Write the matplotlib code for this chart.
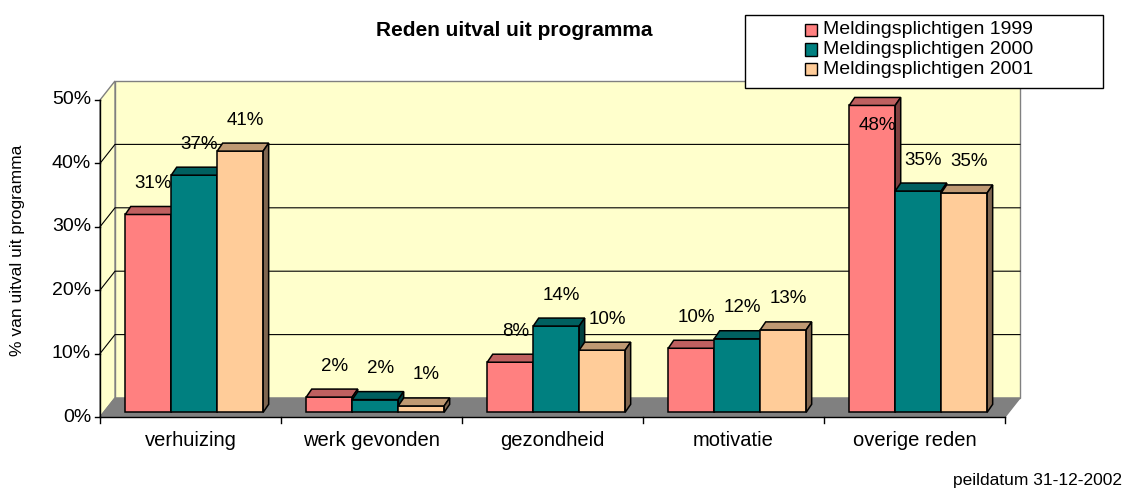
import matplotlib
matplotlib.use("Agg")
import matplotlib.pyplot as plt
from matplotlib.patches import Polygon, Rectangle

# ---- data -----------------------------------------------------------------
categories = ["verhuizing", "werk gevonden", "gezondheid", "motivatie", "overige reden"]
series_names = ["Meldingsplichtigen 1999", "Meldingsplichtigen 2000", "Meldingsplichtigen 2001"]
v1999 = [31.2, 2.4, 7.9, 10.1, 48.4]
v2000 = [37.4, 2.0, 13.6, 11.6, 34.9]
v2001 = [41.2, 1.0, 9.8, 13.0, 34.6]
y_ticks = [0, 10, 20, 30, 40, 50]
y_tick_labels = ["0%", "10%", "20%", "30%", "40%", "50%"]

series = [v1999, v2000, v2001]
front_colors = ["#FF8080", "#008080", "#FFCC99"]
top_colors = ["#BF6060", "#006060", "#BF9973"]
side_colors = ["#804040", "#004040", "#806650"]

plt.rcParams["font.family"] = ["Liberation Sans", "DejaVu Sans"]

W, H = 1126, 488
fig = plt.figure(figsize=(W / 100, H / 100), dpi=100)
fig.patch.set_facecolor("white")

# front plane of the 3-D box, in pixels
fx0, fx1, fy0, fy1 = 100, 1005, 417, 100
ax = fig.add_axes([fx0 / W, 1 - fy0 / H, (fx1 - fx0) / W, (fy0 - fy1) / H])
ax.set_xlim(-0.5, len(categories) - 0.5)
ax.set_ylim(0, 50)
ax.axis("off")

PXX = (fx1 - fx0) / len(categories)   # pixels per category
PXY = (fy0 - fy1) / 50.0              # pixels per percent


def dxp(p):
    return p / PXX


def dyp(p):
    return p / PXY


x_lo, x_hi = -0.5, len(categories) - 0.5
wdx, wdy = dxp(15), dyp(19)            # depth of the floor / walls

# walls and floor
back = Polygon([(x_lo + wdx, wdy), (x_hi + wdx, wdy), (x_hi + wdx, 50 + wdy), (x_lo + wdx, 50 + wdy)],
               closed=True, facecolor="#FFFFCC", edgecolor="#808080", lw=1, clip_on=False, zorder=1)
left = Polygon([(x_lo, 0), (x_lo + wdx, wdy), (x_lo + wdx, 50 + wdy), (x_lo, 50)],
               closed=True, facecolor="#FFFFCC", edgecolor="#808080", lw=1, clip_on=False, zorder=1)
floor = Polygon([(x_lo, 0), (x_hi, 0), (x_hi + wdx, wdy), (x_lo + wdx, wdy)],
                closed=True, facecolor="#808080", edgecolor="#808080", lw=1, clip_on=False, zorder=1.5)
for p in (back, left, floor):
    ax.add_patch(p)

# gridlines on the walls
for t in y_ticks[1:-1]:
    ax.plot([x_lo, x_lo + wdx, x_hi + wdx], [t, t + wdy, t + wdy], color="#000000", lw=0.8,
            clip_on=False, zorder=1.2)

# axes lines and ticks
ax.plot([x_lo, x_lo], [0, 50], color="#000000", lw=1, clip_on=False, zorder=2)
ax.plot([x_lo, x_hi], [0, 0], color="#000000", lw=1, clip_on=False, zorder=2)
for t, lab in zip(y_ticks, y_tick_labels):
    ax.plot([x_lo - dxp(5), x_lo], [t, t], color="#000000", lw=1, clip_on=False, zorder=2)
    ax.text(x_lo - dxp(9), t, lab, ha="right", va="center", fontsize=14, color="black")
for k in range(len(categories) + 1):
    xb = x_lo + k
    ax.plot([xb, xb], [0, -dyp(6)], color="#000000", lw=1, clip_on=False, zorder=2)
for i, c in enumerate(categories):
    ax.text(i, -dyp(24), c, ha="center", va="center", fontsize=14.5, color="black")

# 3-D bars
bw = 0.254
sdx, sdy = dxp(3.7), dyp(4.7)          # bar front offset from the front plane
bdx, bdy = dxp(5.5), dyp(8)            # bar depth
for i in range(len(categories)):
    g0 = i - 1.5 * bw
    for j, vals in enumerate(series):
        v = vals[i]
        xl = g0 + j * bw + sdx
        xr = xl + bw
        b = sdy
        t = v + sdy
        z = 3 + i * 0.1 + j * 0.01
        ax.add_patch(Polygon([(xl, b), (xr, b), (xr, t), (xl, t)], closed=True,
                             facecolor=front_colors[j], edgecolor="black", lw=1.1,
                             clip_on=False, zorder=z))
        ax.add_patch(Polygon([(xl, t), (xr, t), (xr + bdx, t + bdy), (xl + bdx, t + bdy)], closed=True,
                             facecolor=top_colors[j], edgecolor="black", lw=1.1,
                             clip_on=False, zorder=z))
        ax.add_patch(Polygon([(xr, b), (xr, t), (xr + bdx, t + bdy), (xr + bdx, b + bdy)], closed=True,
                             facecolor=side_colors[j], edgecolor="black", lw=1.1,
                             clip_on=False, zorder=z))
        # value label above the bar, or inside it near the top when there is no room
        ly = t + dyp(31)
        if ly > 50:
            ly = t - dyp(20)
        ax.text((xl + xr) / 2 + dxp(5), ly, f"{v:.0f}%", ha="center", va="center",
                fontsize=13.5, color="black", zorder=10)

# texts around the chart
fig.text(514 / W, 1 - 30 / H, "Reden uitval uit programma", ha="center", va="center",
         fontsize=15, fontweight="bold")
fig.text(18 / W, 1 - 250 / H, "% van uitval uit programma", ha="center", va="center",
         rotation=90, fontsize=12.5)
fig.text(1122 / W, 1 - 481 / H, "peildatum 31-12-2002", ha="right", va="center", fontsize=12.5)

# legend box with one row per series
frame = Rectangle((745 / W, 1 - 88 / H), 358 / W, 72.5 / H, transform=fig.transFigure,
                  facecolor="white", edgecolor="black", lw=1, zorder=20)
fig.add_artist(frame)
for j, name in enumerate(series_names):
    yc = 30 + j * 19.5
    fig.add_artist(Rectangle((805 / W, 1 - (yc + 6) / H), 12 / W, 12 / H, transform=fig.transFigure,
                             facecolor=front_colors[j], edgecolor="black", lw=1, zorder=21))
    fig.text(823 / W, 1 - yc / H, name, ha="left", va="center", fontsize=14, zorder=22)

fig.savefig("out.png", dpi=100, facecolor="white")
